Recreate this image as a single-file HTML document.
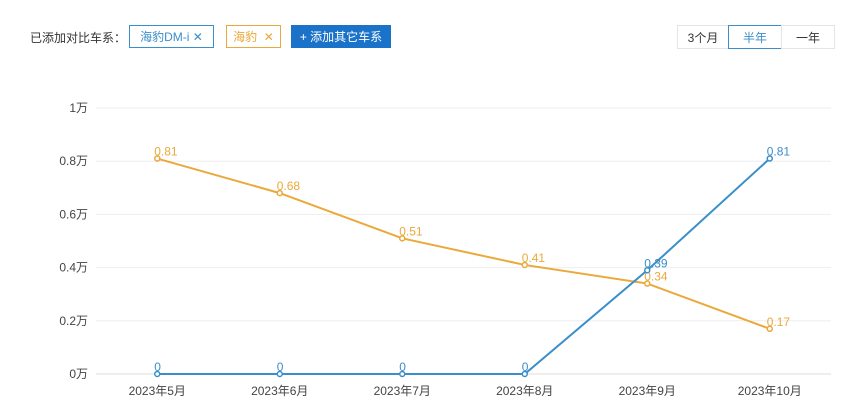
<!DOCTYPE html>
<html><head><meta charset="utf-8"><style>
body{margin:0;width:852px;height:410px;background:#fff;font-family:"Liberation Sans","Noto Sans CJK SC",sans-serif;overflow:hidden;position:relative}
.a{position:absolute;box-sizing:border-box;font-size:12px;display:flex;align-items:center;justify-content:center}
</style></head><body>
<div class="a" style="left:30px;top:26px;height:22px;color:#333">已添加对比车系：</div>
<div class="a" style="left:129px;top:25px;width:85px;height:23px;border:1px solid #3a8ec9;color:#3a8ec9">海豹DM-i&nbsp;✕</div>
<div class="a" style="left:226px;top:25px;width:55px;height:23px;border:1px solid #eaa93a;color:#eaa93a">海豹&nbsp;&nbsp;✕</div>
<div class="a" style="left:291px;top:25px;width:100px;height:23px;background:#1a73c8;color:#fff">+ 添加其它车系</div>
<div class="a" style="left:677px;top:25px;width:52px;height:24px;border:1px solid #e5e5e5;color:#333">3个月</div>
<div class="a" style="left:728px;top:25px;width:54px;height:24px;border:1px solid #3a8ec9;color:#3a8ec9">半年</div>
<div class="a" style="left:781px;top:25px;width:54px;height:24px;border:1px solid #e5e5e5;color:#333">一年</div>
<svg id="c" width="852" height="410" style="position:absolute;left:0;top:0"></svg>
<script>
const categories=["2023年5月","2023年6月","2023年7月","2023年8月","2023年9月","2023年10月"];
const seriesSeal=[0.81,0.68,0.51,0.41,0.34,0.17];
const seriesSealDmi=[0,0,0,0,0.39,0.81];
const yTicks=[0,0.2,0.4,0.6,0.8,1];
const yTickLabels=["0万","0.2万","0.4万","0.6万","0.8万","1万"];
const svg=document.getElementById('c'),NS='http://www.w3.org/2000/svg';
const x0=96,x1=831,yb=374,yt=108;
const bw=(x1-x0)/categories.length;
const X=i=>x0+bw*(i+0.5), Y=v=>yb-(v-0)/(1-0)*(yb-yt);
function mk(t,a,txt){const e=document.createElementNS(NS,t);for(const k in a)e.setAttribute(k,a[k]);if(txt!=null)e.textContent=txt;svg.appendChild(e);return e;}
yTicks.forEach((v,i)=>{
 const g=mk('line',{x1:x0,x2:x1,y1:Y(v),y2:Y(v),stroke:i==0?'#ddd':'#eee'});
 
 
 const t=mk('text',{x:88,y:Y(v)+4,'text-anchor':'end','font-size':12,fill:'#444'},yTickLabels[i]);
 
 
});
categories.forEach((c,i)=>{
 const t=mk('text',{x:X(i),y:395,'text-anchor':'middle','font-size':12,fill:'#444'},c);
 
 
});
function series(d,col,name){
 const p=mk('polyline',{points:d.map((v,i)=>X(i)+','+Y(v)).join(' '),fill:'none',stroke:col,'stroke-width':2});
 
 
 d.forEach((v,i)=>{
  const c=mk('circle',{cx:X(i),cy:Y(v),r:2.5,fill:'#fff',stroke:col,'stroke-width':1.5});
  
  
  const t=mk('text',{x:X(i)-3,y:Y(v)-3,'font-size':12,fill:col},String(v));
  
  
 });
}
series(seriesSeal,'#eaa93a','seal');
series(seriesSealDmi,'#3a8ec9','seal-dmi');
</script>
</body></html>
